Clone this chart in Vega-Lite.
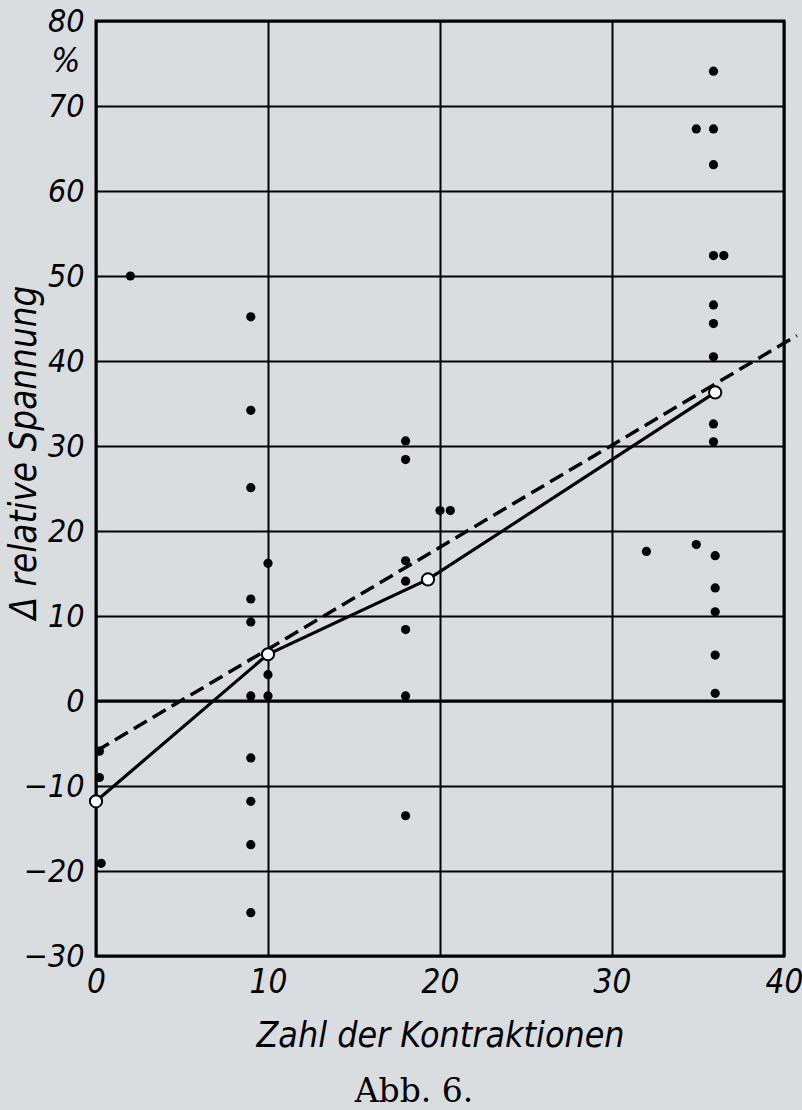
{
  "$schema": "https://vega.github.io/schema/vega-lite/v6.json",
  "width": 688,
  "height": 935,
  "autosize": "none",
  "padding": {"left": 96, "top": 21, "right": 18, "bottom": 154},
  "background": "#dadddf",
  "config": {
    "view": {"stroke": "black", "strokeWidth": 3},
    "axis": {
      "grid": true, "gridColor": "black", "gridWidth": 2, "gridOpacity": 1,
      "domain": false, "ticks": false,
      "labelFont": "DejaVu Sans Condensed, DejaVu Sans, sans-serif",
      "labelFontStyle": "italic", "labelColor": "black",
      "labelOverlap": false, "labelBound": false, "labelFlush": false,
      "titleFont": "DejaVu Sans Condensed, DejaVu Sans, sans-serif",
      "titleFontStyle": "italic", "titleFontWeight": "normal", "titleColor": "black"
    }
  },
  "title": {
    "text": "Abb. 6.",
    "orient": "bottom",
    "anchor": "middle",
    "font": "DejaVu Serif",
    "fontSize": 33,
    "fontWeight": "normal",
    "color": "black",
    "baseline": "alphabetic",
    "offset": 48,
    "dx": -26
  },
  "datasets": {
    "points": [
      {"x": 2, "y": 50},
      {"x": 9, "y": 45.2}, {"x": 9, "y": 34.2}, {"x": 9, "y": 25.1}, {"x": 9, "y": 12.0},
      {"x": 9, "y": 9.3}, {"x": 9, "y": 0.6}, {"x": 9, "y": -6.7}, {"x": 9, "y": -11.8},
      {"x": 9, "y": -16.9}, {"x": 9, "y": -24.9},
      {"x": 10, "y": 16.2}, {"x": 10, "y": 3.1}, {"x": 10, "y": 0.6},
      {"x": 0.2, "y": -5.9}, {"x": 0.2, "y": -9.0}, {"x": 0.3, "y": -19.1},
      {"x": 18, "y": 30.6}, {"x": 18, "y": 28.4}, {"x": 18, "y": 16.5}, {"x": 18, "y": 14.1},
      {"x": 18, "y": 8.4}, {"x": 18, "y": 0.6}, {"x": 18, "y": -13.5},
      {"x": 20, "y": 22.4}, {"x": 20.6, "y": 22.4},
      {"x": 32, "y": 17.6}, {"x": 34.9, "y": 18.4},
      {"x": 35.9, "y": 74.1}, {"x": 34.9, "y": 67.3}, {"x": 35.9, "y": 67.3}, {"x": 35.9, "y": 63.1},
      {"x": 35.9, "y": 52.4}, {"x": 36.5, "y": 52.4},
      {"x": 35.9, "y": 46.6}, {"x": 35.9, "y": 44.4}, {"x": 35.9, "y": 40.5},
      {"x": 35.9, "y": 32.6}, {"x": 35.9, "y": 30.5},
      {"x": 36, "y": 17.1}, {"x": 36, "y": 13.3}, {"x": 36, "y": 10.5}, {"x": 36, "y": 5.4}, {"x": 36, "y": 0.9}
    ],
    "means": [
      {"x": 0, "y": -11.8}, {"x": 10, "y": 5.5}, {"x": 19.3, "y": 14.3}, {"x": 36, "y": 36.3}
    ],
    "regression": [
      {"x": 0, "y": -5.9}, {"x": 40.75, "y": 43.0}
    ],
    "zeroline": [
      {"x": 0, "y": 0}, {"x": 40, "y": 0}
    ],
    "unit": [
      {"x": -1.75, "y": 75.2, "label": "%"}
    ]
  },
  "encoding": {
    "x": {
      "field": "x", "type": "quantitative",
      "scale": {"domain": [0, 40], "nice": false, "zero": false},
      "title": "Zahl der Kontraktionen",
      "axis": {
        "values": [0, 10, 20, 30, 40],
        "labelFontSize": 33, "labelPadding": 10, "labelAngle": 0,
        "titleFontSize": 35.5, "titleBaseline": "alphabetic", "titleY": 90
      }
    },
    "y": {
      "field": "y", "type": "quantitative",
      "scale": {"domain": [-30, 80], "nice": false, "zero": false},
      "title": "Δ relative Spannung",
      "axis": {
        "values": [-30, -20, -10, 0, 10, 20, 30, 40, 50, 60, 70, 80],
        "labelFontSize": 32, "labelPadding": 12,
        "titleFontSize": 36.5, "titleBaseline": "alphabetic", "titleAngle": -90,
        "titleAlign": "center", "titleX": -61, "titleY": 431
      }
    }
  },
  "layer": [
    {
      "data": {"name": "zeroline"},
      "mark": {"type": "line", "color": "black", "strokeWidth": 3.2}
    },
    {
      "data": {"name": "regression"},
      "mark": {"type": "line", "color": "black", "strokeWidth": 3.5, "strokeDash": [15, 7]}
    },
    {
      "data": {"name": "means"},
      "mark": {"type": "line", "color": "black", "strokeWidth": 3.2}
    },
    {
      "data": {"name": "points"},
      "mark": {"type": "point", "shape": "circle", "filled": true, "color": "black", "opacity": 1, "size": 85}
    },
    {
      "data": {"name": "means"},
      "mark": {"type": "point", "shape": "circle", "filled": true, "fill": "white", "stroke": "black", "strokeWidth": 2, "opacity": 1, "size": 150}
    },
    {
      "data": {"name": "unit"},
      "mark": {"type": "text", "font": "DejaVu Sans Condensed, DejaVu Sans, sans-serif", "fontStyle": "italic", "fontSize": 34, "color": "black", "align": "center", "baseline": "middle"},
      "encoding": {"text": {"field": "label"}}
    }
  ]
}
